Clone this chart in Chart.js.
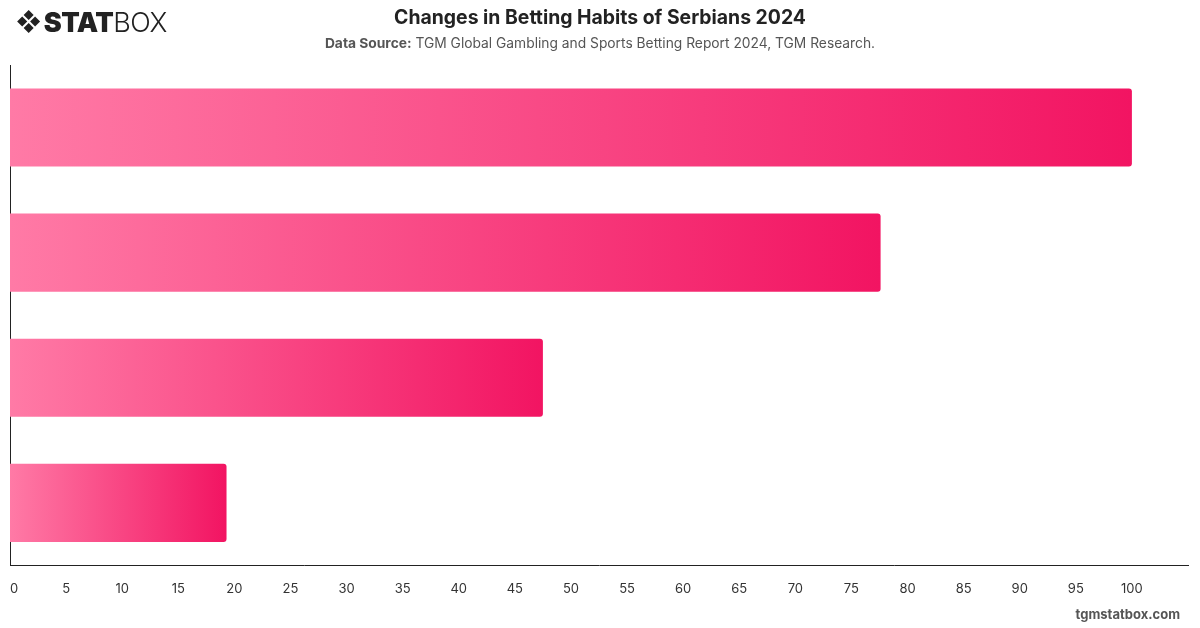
<!DOCTYPE html>
<html>
<head>
<meta charset="utf-8">
<script src="https://cdn.jsdelivr.net/npm/chart.js@4"></script>
<style>
  html, body { margin: 0; padding: 0; background: #fff; }
  body { width: 1200px; height: 628px; position: relative; overflow: hidden; font-family: Inter, "Noto Sans", Arial, sans-serif; }
  #logo { position: absolute; left: 16px; top: 6px; font-size: 27px; color: #222; letter-spacing: -0.5px; white-space: nowrap; }
  #logo .mark { font-size: 24px; margin-right: 3px; vertical-align: 2px; }
  #logo .b { font-weight: 900; }
  #logo .l { font-weight: 300; }
  #title { position: absolute; left: 0; width: 1200px; top: 5px; text-align: center; font-size: 19.4px; font-weight: 700; color: #222; }
  #subtitle { position: absolute; left: 0; width: 1200px; top: 35px; text-align: center; font-size: 13.8px; color: #555; }
  #subtitle b { font-weight: 700; }
  #wm { position: absolute; right: 20px; top: 606px; font-size: 13px; font-weight: 700; color: #555; }
  #wrap { position: absolute; left: 0; top: 0; width: 1200px; height: 628px; }
</style>
</head>
<body>
<div id="wrap"><canvas id="chart"></canvas></div>
<div id="logo"><span class="mark">&#10070;</span><span class="b">STAT</span><span class="l">BOX</span></div>
<div id="title">Changes in Betting Habits of Serbians 2024</div>
<div id="subtitle"><b>Data Source:</b> TGM Global Gambling and Sports Betting Report 2024, TGM Research.</div>
<div id="wm">tgmstatbox.com</div>
<script>
// Categories are not labelled in the picture
const categories = ["", " ", "  ", "   "];
const shares = [100, 77.6, 47.5, 19.3];
const xMax = 105;
const xStep = 5;

// light pink on the left, deep pink at the end of each bar
function barGradient(context) {
  const chart = context.chart;
  const area = chart.chartArea;
  if (!area) return "#f5468a";
  const xScale = chart.scales.x;
  const start = xScale.getPixelForValue(0);
  const end = xScale.getPixelForValue(shares[context.dataIndex]);
  const g = chart.ctx.createLinearGradient(start, 0, end, 0);
  g.addColorStop(0, "#ff7aa6");
  g.addColorStop(1, "#f21462");
  return g;
}

const ctx = document.getElementById("chart").getContext("2d");
new Chart(ctx, {
  type: "bar",
  data: {
    labels: categories,
    datasets: [
      {
        data: shares,
        backgroundColor: barGradient,
        borderWidth: 0,
        borderRadius: { topRight: 3, bottomRight: 3, topLeft: 0, bottomLeft: 0 },
        borderSkipped: false,
        barPercentage: 0.78,
        categoryPercentage: 0.8,
      },
    ],
  },
  options: {
    indexAxis: "y",
    responsive: true,
    maintainAspectRatio: false,
    animation: false,
    layout: { padding: { left: 10, right: 12, top: 65, bottom: 15 } },
    plugins: {
      legend: { display: false },
      tooltip: { enabled: false },
    },
    scales: {
      x: {
        min: 0,
        max: xMax,
        grid: { display: false, drawTicks: false },
        border: { display: true, color: "#222", width: 1 },
        afterFit: (s) => { s.paddingLeft = 0; s.paddingRight = 0; },
        ticks: {
          stepSize: xStep,
          padding: 16,
          align: "inner",
          color: "#333",
          font: { size: 13, family: "Inter, 'Noto Sans', Arial, sans-serif" },
          callback: (v) => (v > 100 ? "" : v),
        },
      },
      y: {
        grid: { display: false, drawTicks: false },
        border: { display: true, color: "#222", width: 1 },
        afterFit: (s) => { s.width = 0; },
        ticks: { display: false },
      },
    },
  },
});
</script>
</body>
</html>
